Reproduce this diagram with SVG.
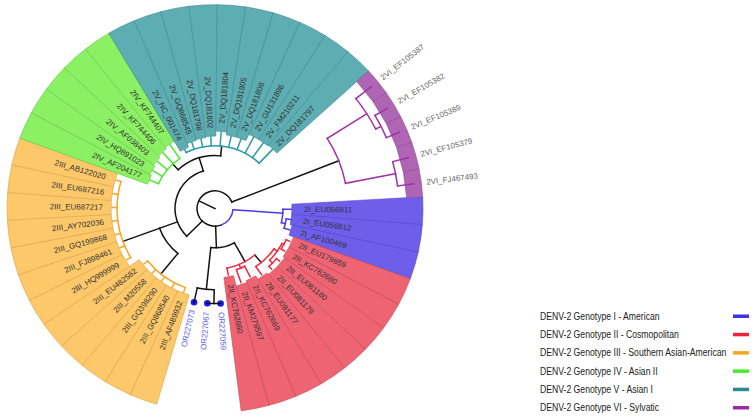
<svg xmlns="http://www.w3.org/2000/svg" width="754" height="418" viewBox="0 0 754 418">
<style>
text{font-family:"Liberation Sans",Arial,sans-serif;}
.t text{font-size:8px;fill:#333;stroke:none;dominant-baseline:central;}
.t text.l{text-anchor:end;}
.t text.pv{fill:#666;}
.t text.q{fill:#5a5af0;}
.b{fill:#6e5feb;stroke:#5243cf;stroke-width:.6}
.r{fill:#ee6473;stroke:#c84858;stroke-width:.6}
.o{fill:#fdc869;stroke:#dca54a;stroke-width:.6}
.g{fill:#8cf064;stroke:#6cc848;stroke-width:.6}
.c{fill:#5eadb2;stroke:#3f8c92;stroke-width:.6}
.p{fill:#b064b4;stroke:#934a98;stroke-width:.6}
.dot{fill:#1a1aee}
#connectors line,#connectors path{fill:none;stroke-width:1.5;stroke-linecap:square}
.k line,.k path{stroke:#111}
.cb line,.cb path{stroke:#4a3af0}
.cr line,.cr path{stroke:#ee2a3c}
.co line,.co path{stroke:#f5a623}
.cg line,.cg path{stroke:#47e82a}
.ct line,.ct path{stroke:#2a9ca3}
.cp line,.cp path{stroke:#a030a8}
.lg text{font-size:11.5px;fill:#222}
</style>
<defs>
<polygon id="s68" points="67.84,-4.64 207.52,-14.2 208,0 207.52,14.2 67.84,4.64"/>
<polygon id="s71" points="70.83,-4.85 207.52,-14.2 208,0 207.52,14.2 70.83,4.85"/>
<polygon id="s72" points="71.83,-4.91 207.52,-14.2 208,0 207.52,14.2 71.83,4.91"/>
<polygon id="s73" points="72.83,-4.98 207.52,-14.2 208,0 207.52,14.2 72.83,4.98"/>
<polygon id="s74" points="73.83,-5.05 207.52,-14.2 208,0 207.52,14.2 73.83,5.05"/>
<polygon id="s76" points="75.82,-5.19 207.52,-14.2 208,0 207.52,14.2 75.82,5.19"/>
<polygon id="s77" points="76.82,-5.26 207.52,-14.2 208,0 207.52,14.2 76.82,5.26"/>
<polygon id="s78" points="77.82,-5.32 207.52,-14.2 208,0 207.52,14.2 77.82,5.32"/>
<polygon id="s79" points="78.82,-5.39 207.52,-14.2 208,0 207.52,14.2 78.82,5.39"/>
<polygon id="s80" points="79.81,-5.46 207.52,-14.2 208,0 207.52,14.2 79.81,5.46"/>
<polygon id="s82" points="81.81,-5.6 207.52,-14.2 208,0 207.52,14.2 81.81,5.6"/>
<polygon id="s83" points="82.81,-5.66 207.52,-14.2 208,0 207.52,14.2 82.81,5.66"/>
<polygon id="s84" points="83.8,-5.73 207.52,-14.2 208,0 207.52,14.2 83.8,5.73"/>
<polygon id="s86" points="85.8,-5.87 207.52,-14.2 208,0 207.52,14.2 85.8,5.87"/>
<polygon id="s92" points="91.79,-6.28 207.52,-14.2 208,0 207.52,14.2 91.79,6.28"/>
<polygon id="s104" points="103.76,-7.1 207.52,-14.2 208,0 207.52,14.2 103.76,7.1"/>
<polygon id="s192" points="191.55,-13.1 207.52,-14.2 208,0 207.52,14.2 191.55,13.1"/>
</defs>
<g id="tree" transform="translate(215,208.5) scale(1,0.98)">
<g id="leaves" class="t">
<g id="n-2I_EU056811"><use href="#s77" class="b" transform="rotate(0.61)"/><text transform="rotate(0.61) translate(89,0)">2I_EU056811</text></g>
<g id="n-2I_EU056812"><use href="#s77" class="b" transform="rotate(8.44)"/><text transform="rotate(8.44) translate(89,0)">2I_EU056812</text></g>
<g id="n-2I_AF100469"><use href="#s79" class="b" transform="rotate(16.27)"/><text transform="rotate(16.27) translate(89,0)">2I_AF100469</text></g>
<g id="n-2II_EU179859"><use href="#s84" class="r" transform="rotate(24.09)"/><text transform="rotate(24.09) translate(92,0)">2II_EU179859</text></g>
<g id="n-2II_KC762680"><use href="#s84" class="r" transform="rotate(31.92)"/><text transform="rotate(31.92) translate(92,0)">2II_KC762680</text></g>
<g id="n-2II_EU081180"><use href="#s86" class="r" transform="rotate(39.74)"/><text transform="rotate(39.74) translate(94,0)">2II_EU081180</text></g>
<g id="n-2II_EU081179"><use href="#s86" class="r" transform="rotate(47.57)"/><text transform="rotate(47.57) translate(94,0)">2II_EU081179</text></g>
<g id="n-2II_EU081177"><use href="#s84" class="r" transform="rotate(55.4)"/><text transform="rotate(55.4) translate(92,0)">2II_EU081177</text></g>
<g id="n-2II_KC762669"><use href="#s80" class="r" transform="rotate(63.22)"/><text transform="rotate(63.22) translate(88,0)">2II_KC762669</text></g>
<g id="n-2II_KM279597"><use href="#s82" class="r" transform="rotate(71.05)"/><text transform="rotate(71.05) translate(90,0)">2II_KM279597</text></g>
<g id="n-2II_KC762660"><use href="#s71" class="r" transform="rotate(78.87)"/><text transform="rotate(78.87) translate(79,0)">2II_KC762660</text></g>
<g id="n-OR227059"><circle class="dot" cx="5.59" cy="96.84" r="3.3"/><text class="q" transform="rotate(86.7) translate(106,0)">OR227059</text></g>
<g id="n-OR227067"><circle class="dot" cx="-7.66" cy="96.7" r="3.3"/><text class="q l" transform="rotate(94.53) translate(106,0) rotate(180)">OR227067</text></g>
<g id="n-OR227073"><circle class="dot" cx="-20.96" cy="95.74" r="3.3"/><text class="q l" transform="rotate(102.35) translate(106,0) rotate(180)">OR227073</text></g>
<g id="n-2III_AF489932"><use href="#s92" class="o" transform="rotate(110.18)"/><text class="l" transform="rotate(110.18) translate(101,0) rotate(180)">2III_AF489932</text></g>
<g id="n-2III_GQ868540"><use href="#s92" class="o" transform="rotate(118)"/><text class="l" transform="rotate(118) translate(101,0) rotate(180)">2III_GQ868540</text></g>
<g id="n-2III_GQ398290"><use href="#s92" class="o" transform="rotate(125.83)"/><text class="l" transform="rotate(125.83) translate(101,0) rotate(180)">2III_GQ398290</text></g>
<g id="n-2III_M20558"><use href="#s92" class="o" transform="rotate(133.66)"/><text class="l" transform="rotate(133.66) translate(101,0) rotate(180)">2III_M20558</text></g>
<g id="n-2III_EU482582"><use href="#s92" class="o" transform="rotate(141.48)"/><text class="l" transform="rotate(141.48) translate(101,0) rotate(180)">2III_EU482582</text></g>
<g id="n-2III_HQ999999"><use href="#s104" class="o" transform="rotate(149.31)"/><text class="l" transform="rotate(149.31) translate(112,0) rotate(180)">2III_HQ999999</text></g>
<g id="n-2III_FJ898461"><use href="#s104" class="o" transform="rotate(157.13)"/><text class="l" transform="rotate(157.13) translate(112,0) rotate(180)">2III_FJ898461</text></g>
<g id="n-2III_GQ199868"><use href="#s104" class="o" transform="rotate(164.96)"/><text class="l" transform="rotate(164.96) translate(112,0) rotate(180)">2III_GQ199868</text></g>
<g id="n-2III_AY702036"><use href="#s104" class="o" transform="rotate(172.79)"/><text class="l" transform="rotate(172.79) translate(112,0) rotate(180)">2III_AY702036</text></g>
<g id="n-2III_EU687217"><use href="#s104" class="o" transform="rotate(180.61)"/><text class="l" transform="rotate(180.61) translate(112,0) rotate(180)">2III_EU687217</text></g>
<g id="n-2III_EU687216"><use href="#s104" class="o" transform="rotate(188.44)"/><text class="l" transform="rotate(188.44) translate(112,0) rotate(180)">2III_EU687216</text></g>
<g id="n-2III_AB122020"><use href="#s104" class="o" transform="rotate(196.27)"/><text class="l" transform="rotate(196.27) translate(114,0) rotate(180)">2III_AB122020</text></g>
<g id="n-2IV_AF204177"><use href="#s72" class="g" transform="rotate(204.09)"/><text class="l" transform="rotate(204.09) translate(81,0) rotate(180)">2IV_AF204177</text></g>
<g id="n-2IV_HQ891023"><use href="#s74" class="g" transform="rotate(211.92)"/><text class="l" transform="rotate(211.92) translate(84,0) rotate(180)">2IV_HQ891023</text></g>
<g id="n-2IV_AF038403"><use href="#s76" class="g" transform="rotate(219.74)"/><text class="l" transform="rotate(219.74) translate(87,0) rotate(180)">2IV_AF038403</text></g>
<g id="n-2IV_KF744406"><use href="#s78" class="g" transform="rotate(227.57)"/><text class="l" transform="rotate(227.57) translate(90,0) rotate(180)">2IV_KF744406</text></g>
<g id="n-2IV_KF744407"><use href="#s80" class="g" transform="rotate(235.4)"/><text class="l" transform="rotate(235.4) translate(93,0) rotate(180)">2IV_KF744407</text></g>
<g id="n-2V_NC_001474"><use href="#s68" class="c" transform="rotate(243.22)"/><text class="l" transform="rotate(243.22) translate(78,0) rotate(180)">2V_NC_001474</text></g>
<g id="n-2V_GQ868545"><use href="#s72" class="c" transform="rotate(251.05)"/><text class="l" transform="rotate(251.05) translate(80,0) rotate(180)">2V_GQ868545</text></g>
<g id="n-2V_DQ181798"><use href="#s73" class="c" transform="rotate(258.87)"/><text class="l" transform="rotate(258.87) translate(81,0) rotate(180)">2V_DQ181798</text></g>
<g id="n-2V_DQ181802"><use href="#s74" class="c" transform="rotate(266.7)"/><text class="l" transform="rotate(266.7) translate(82,0) rotate(180)">2V_DQ181802</text></g>
<g id="n-2V_DQ181804"><use href="#s79" class="c" transform="rotate(274.53)"/><text transform="rotate(274.53) translate(87,0)">2V_DQ181804</text></g>
<g id="n-2V_DQ181805"><use href="#s76" class="c" transform="rotate(282.35)"/><text transform="rotate(282.35) translate(84,0)">2V_DQ181805</text></g>
<g id="n-2V_DQ181806"><use href="#s76" class="c" transform="rotate(290.18)"/><text transform="rotate(290.18) translate(84,0)">2V_DQ181806</text></g>
<g id="n-2V_GU131896"><use href="#s83" class="c" transform="rotate(298)"/><text transform="rotate(298) translate(90,0)">2V_GU131896</text></g>
<g id="n-2V_FM210211"><use href="#s83" class="c" transform="rotate(305.83)"/><text transform="rotate(305.83) translate(90,0)">2V_FM210211</text></g>
<g id="n-2V_DQ181797"><use href="#s84" class="c" transform="rotate(313.66)"/><text transform="rotate(313.66) translate(90,0)">2V_DQ181797</text></g>
<g id="n-2VI_EF105387"><use href="#s192" class="p" transform="rotate(321.48)"/><text class="pv" transform="rotate(321.48) translate(213,0)">2VI_EF105387</text></g>
<g id="n-2VI_EF105382"><use href="#s192" class="p" transform="rotate(329.31)"/><text class="pv" transform="rotate(329.31) translate(213,0)">2VI_EF105382</text></g>
<g id="n-2VI_EF105389"><use href="#s192" class="p" transform="rotate(337.13)"/><text class="pv" transform="rotate(337.13) translate(213,0)">2VI_EF105389</text></g>
<g id="n-2VI_EF105379"><use href="#s192" class="p" transform="rotate(344.96)"/><text class="pv" transform="rotate(344.96) translate(213,0)">2VI_EF105379</text></g>
<g id="n-2VI_FJ467493"><use href="#s192" class="p" transform="rotate(352.79)"/><text class="pv" transform="rotate(352.79) translate(213,0)">2VI_FJ467493</text></g>
</g>
<g id="connectors">
<g class="k">
<line transform="rotate(206)" x1="0" x2="17"/>
<path d="M6.16 16.91A18 18 0 1 1 16.75 -6.6"/>
<line transform="rotate(338.5)" x1="18" x2="133"/>
<line transform="rotate(88)" x1="18" x2="40"/>
<path d="M19.39 34.98A40 40 0 0 1 -4.18 39.78"/>
<line transform="rotate(96)" x1="40" x2="83"/>
<line transform="rotate(61)" x1="40" x2="62"/>
<line transform="rotate(50)" x1="62" x2="72"/>
<line transform="rotate(135)" x1="18" x2="40"/>
<path d="M-28.28 28.28A40 40 0 0 1 -11.7 -38.25"/>
<line transform="rotate(160)" x1="40" x2="98"/>
<path d="M-37.13 45.85A59 59 0 0 1 -55.44 20.18"/>
<line transform="rotate(129)" x1="59" x2="86"/>
<line transform="rotate(253)" x1="40" x2="54"/>
<path d="M-36.83 -39.5A54 54 0 0 1 5.64 -53.7"/>
<line transform="rotate(227)" x1="54" x2="62"/>
<line transform="rotate(276)" x1="54" x2="64"/>
<path d="M-0.87 82.99A83 83 0 0 1 -17.75 81.08"/>
<line transform="rotate(90.6)" x1="83" x2="97"/>
<line transform="rotate(102.35)" x1="83" x2="98"/>
<path d="M5.59 96.84A97 97 0 0 1 -7.66 96.7"/>
</g>
<g class="cb">
<path d="M17.96 1.26A18 18 0 0 1 6.16 16.91"/>
<line transform="rotate(4)" x1="18" x2="68"/>
<path d="M68 0.72A68 68 0 0 1 66.42 14.56"/>
<line transform="rotate(0.61)" x1="68" x2="76"/>
<line transform="rotate(12.36)" x1="68" x2="72"/>
<path d="M71.22 10.57A72 72 0 0 1 69.12 20.17"/>
<line transform="rotate(8.44)" x1="72" x2="76"/>
<line transform="rotate(16.27)" x1="72" x2="78"/>
</g>
<g class="cr">
<path d="M39.85 47.49A62 62 0 0 1 11.97 60.83"/>
<line transform="rotate(78.87)" x1="62" x2="69"/>
<line transform="rotate(67.1)" x1="62" x2="66"/>
<path d="M29.73 58.92A66 66 0 0 1 21.43 62.42"/>
<line transform="rotate(63.22)" x1="66" x2="78"/>
<line transform="rotate(71.05)" x1="66" x2="80"/>
<path d="M58.98 41.3A72 72 0 0 1 40.88 59.26"/>
<line transform="rotate(55.4)" x1="72" x2="82"/>
<line transform="rotate(35)" x1="72" x2="76"/>
<path d="M67.1 35.68A76 76 0 0 1 54.67 52.8"/>
<line transform="rotate(44)" x1="76" x2="80"/>
<path d="M61.5 51.15A80 80 0 0 1 53.97 59.06"/>
<line transform="rotate(39.74)" x1="80" x2="84"/>
<line transform="rotate(47.57)" x1="80" x2="84"/>
<line transform="rotate(28)" x1="76" x2="78"/>
<path d="M71.21 31.83A78 78 0 0 1 66.21 41.24"/>
<line transform="rotate(24.09)" x1="78" x2="82"/>
<line transform="rotate(31.92)" x1="78" x2="82"/>
</g>
<g class="co">
<path d="M-29.67 80.72A86 86 0 0 1 -67.3 53.55"/>
<line transform="rotate(110.18)" x1="86" x2="91"/>
<line transform="rotate(118)" x1="86" x2="91"/>
<line transform="rotate(125.83)" x1="86" x2="91"/>
<line transform="rotate(133.66)" x1="86" x2="91"/>
<line transform="rotate(141.48)" x1="86" x2="91"/>
<path d="M-84.27 50.03A98 98 0 0 1 -94.08 -27.45"/>
<line transform="rotate(149.31)" x1="98" x2="103"/>
<line transform="rotate(157.13)" x1="98" x2="103"/>
<line transform="rotate(164.96)" x1="98" x2="103"/>
<line transform="rotate(172.79)" x1="98" x2="103"/>
<line transform="rotate(180.61)" x1="98" x2="103"/>
<line transform="rotate(188.44)" x1="98" x2="103"/>
<line transform="rotate(196.27)" x1="98" x2="103"/>
</g>
<g class="cg">
<path d="M-56.6 -25.3A62 62 0 0 1 -35.2 -51.03"/>
<line transform="rotate(204.09)" x1="62" x2="71"/>
<line transform="rotate(211.92)" x1="62" x2="73"/>
<line transform="rotate(219.74)" x1="62" x2="75"/>
<line transform="rotate(227.57)" x1="62" x2="77"/>
<line transform="rotate(235.4)" x1="62" x2="79"/>
</g>
<g class="ct">
<path d="M-28.83 -57.14A64 64 0 0 1 44.19 -46.3"/>
<line transform="rotate(243.22)" x1="64" x2="67"/>
<line transform="rotate(251.05)" x1="64" x2="71"/>
<line transform="rotate(258.87)" x1="64" x2="72"/>
<line transform="rotate(266.7)" x1="64" x2="73"/>
<line transform="rotate(274.53)" x1="64" x2="78"/>
<line transform="rotate(282.35)" x1="64" x2="75"/>
<line transform="rotate(290.18)" x1="64" x2="75"/>
<line transform="rotate(298)" x1="64" x2="82"/>
<line transform="rotate(305.83)" x1="64" x2="82"/>
<line transform="rotate(313.66)" x1="64" x2="83"/>
</g>
<g class="cp">
<path d="M112.17 -71.46A133 133 0 0 1 130.5 -25.67"/>
<line transform="rotate(327.5)" x1="133" x2="180"/>
<path d="M140.83 -112.1A180 180 0 0 1 160.7 -81.09"/>
<line transform="rotate(321.48)" x1="180" x2="200"/>
<line transform="rotate(333.22)" x1="180" x2="186"/>
<path d="M159.96 -94.93A186 186 0 0 1 171.38 -72.3"/>
<line transform="rotate(329.31)" x1="186" x2="200"/>
<line transform="rotate(337.13)" x1="186" x2="200"/>
<line transform="rotate(348.87)" x1="133" x2="184"/>
<path d="M177.69 -47.75A184 184 0 0 1 182.55 -23.09"/>
<line transform="rotate(344.96)" x1="184" x2="200"/>
<line transform="rotate(352.79)" x1="184" x2="200"/>
</g>
</g>
</g>
<g id="legend" class="lg">
<text transform="translate(540,319.8) scale(0.753,1)">DENV-2 Genotype I - American</text>
<text transform="translate(540,338.1) scale(0.753,1)">DENV-2 Genotype II - Cosmopolitan</text>
<text transform="translate(540,356.4) scale(0.753,1)">DENV-2 Genotype III - Southern Asian-American</text>
<text transform="translate(540,374.7) scale(0.753,1)">DENV-2 Genotype IV - Asian II</text>
<text transform="translate(540,393) scale(0.753,1)">DENV-2 Genotype V - Asian I</text>
<text transform="translate(540,411.3) scale(0.753,1)">DENV-2 Genotype VI - Sylvatic</text>
<rect x="733" y="314.5" width="16" height="3.5" fill="#3a32e6"/>
<rect x="733" y="332.8" width="16" height="3.5" fill="#e8253a"/>
<rect x="733" y="351.1" width="16" height="3.5" fill="#f5a623"/>
<rect x="733" y="369.4" width="16" height="3.5" fill="#44ee2a"/>
<rect x="733" y="387.7" width="16" height="3.5" fill="#2a8a8f"/>
<rect x="733" y="406" width="16" height="3.5" fill="#9b2a9e"/>
</g>
</svg>
